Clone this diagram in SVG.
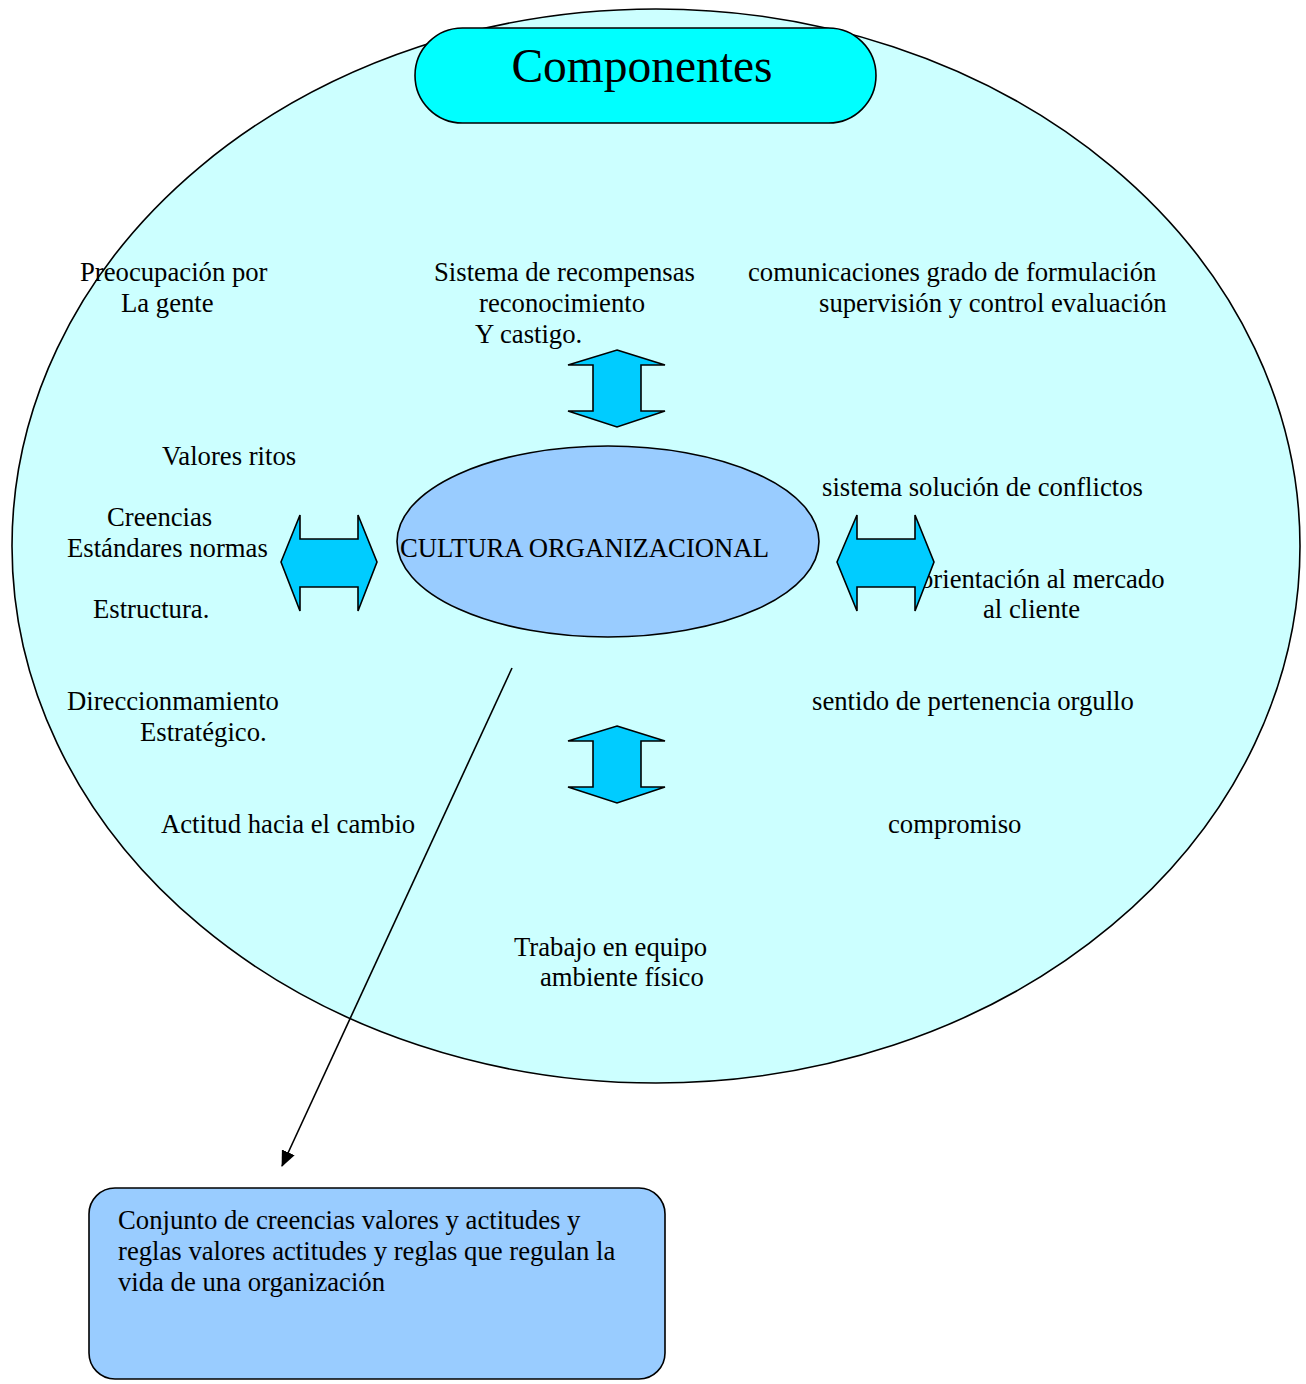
<svg xmlns="http://www.w3.org/2000/svg" width="1306" height="1384" viewBox="0 0 1306 1384">
<style>
.t{font-family:"Liberation Serif","Times New Roman",serif;font-size:26.7px;fill:#000}
.sh{stroke:#000;stroke-width:1.6}
.arr{fill:#00CCFF;stroke:#000;stroke-width:1.6;stroke-linejoin:miter}
</style>
<defs>
<marker id="ah" markerWidth="16" markerHeight="14" refX="15" refY="7" orient="auto" markerUnits="userSpaceOnUse" viewBox="0 0 16 14">
<path d="M0,0 L16,7 L0,14 Z" fill="#000"/>
</marker>
</defs>
<rect width="1306" height="1384" fill="#fff"/>
<g id="outer">
<ellipse cx="656" cy="546" rx="644" ry="537" fill="#CCFFFF" class="sh"/>
</g>
<g id="title">
<rect x="415" y="28" width="461" height="95" rx="47.5" ry="47.5" fill="#00FFFF" class="sh"/>
<text x="642" y="82" text-anchor="middle" style="font-family:'Liberation Serif','Times New Roman',serif;font-size:47.5px">Componentes</text>
</g>
<g id="labels">
<text class="t" x="80" y="281">Preocupación por</text>
<text class="t" x="121" y="312">La gente</text>
<text class="t" x="434" y="281">Sistema de recompensas</text>
<text class="t" x="479" y="312">reconocimiento</text>
<text class="t" x="475" y="343">Y castigo.</text>
<text class="t" x="748" y="281">comunicaciones grado de formulación</text>
<text class="t" x="819" y="312">supervisión y control evaluación</text>
<text class="t" x="162" y="465">Valores ritos</text>
<text class="t" x="107" y="526">Creencias</text>
<text class="t" x="67" y="557">Estándares normas</text>
<text class="t" x="93" y="618">Estructura.</text>
<text class="t" x="822" y="496">sistema solución de conflictos</text>
<text class="t" x="920" y="588">orientación al mercado</text>
<text class="t" x="983" y="618">al cliente</text>
<text class="t" x="67" y="710">Direccionmamiento</text>
<text class="t" x="140" y="741">Estratégico.</text>
<text class="t" x="812" y="710">sentido de pertenencia orgullo</text>
<text class="t" x="161" y="833">Actitud hacia el cambio</text>
<text class="t" x="888" y="833">compromiso</text>
<text class="t" x="514" y="956">Trabajo en equipo</text>
<text class="t" x="540" y="986">ambiente físico</text>
</g>
<g id="center">
<ellipse cx="608" cy="541.5" rx="211" ry="95.5" fill="#99CCFF" class="sh"/>
<text class="t" x="400" y="557">CULTURA ORGANIZACIONAL</text>
</g>
<g id="arrow-top">
<polygon class="arr" points="617,350 665,365 641,365 641,411 665,411 617,427 568,411 593,411 593,365 568,365"/>
</g>
<g id="arrow-bottom">
<polygon class="arr" points="617,726 665,741 641,741 641,787 665,787 617,803 568,787 593,787 593,741 568,741"/>
</g>
<g id="arrow-left">
<polygon class="arr" points="281,562 300,515 300,539 358,539 358,515 377,562 358,611 358,587 300,587 300,611"/>
</g>
<g id="arrow-right">
<polygon class="arr" points="837,562 857,515 857,539 915,539 915,515 934,562 915,611 915,587 857,587 857,611"/>
</g>
<g id="connectors">
<line x1="512" y1="668" x2="282" y2="1166" stroke="#000" stroke-width="1.6" marker-end="url(#ah)"/>
</g>
<g id="definition">
<rect x="89" y="1188" width="576" height="191" rx="26" ry="26" fill="#99CCFF" class="sh"/>
<text class="t" x="118" y="1229">Conjunto de creencias valores y actitudes y</text>
<text class="t" x="118" y="1260">reglas valores actitudes y reglas que regulan la</text>
<text class="t" x="118" y="1291">vida de una organización</text>
</g>
</svg>
